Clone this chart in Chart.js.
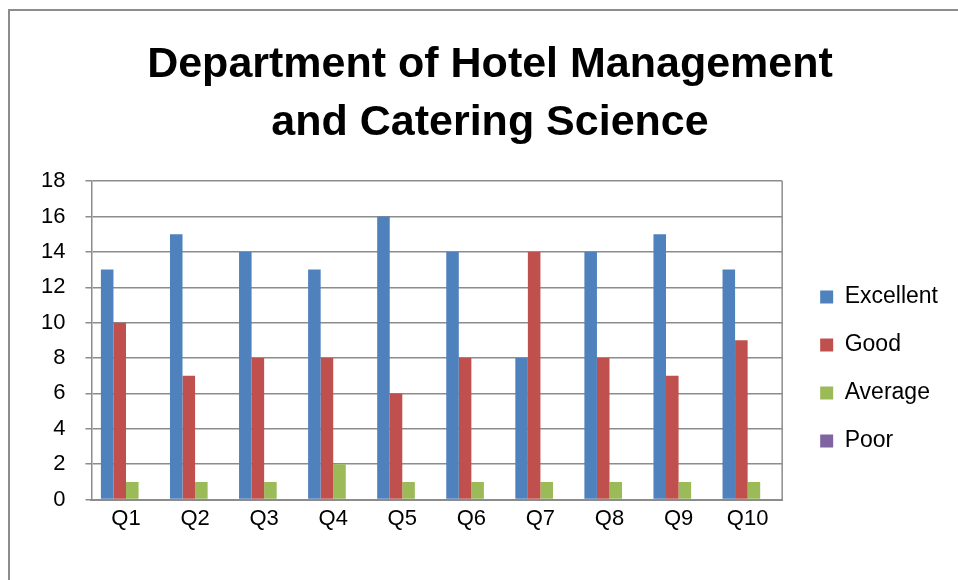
<!DOCTYPE html>
<html>
<head>
<meta charset="utf-8">
<script src="https://cdn.jsdelivr.net/npm/chart.js@4/dist/chart.umd.min.js"></script>
<style>
  html, body { margin: 0; padding: 0; background: #fff; overflow: hidden; }
  #frame { position: absolute; left: 8px; top: 9px; width: 1000px; height: 1000px; border: 2px solid #8c8c8c; }
  #wrap { position: absolute; left: 0; top: 0; width: 958px; height: 580px; }
</style>
</head>
<body>
<div id="frame"></div>
<div id="wrap"><canvas id="surveyChart"></canvas></div>
<script>
// Feedback counts per question
const questions = ['Q1', 'Q2', 'Q3', 'Q4', 'Q5', 'Q6', 'Q7', 'Q8', 'Q9', 'Q10'];
const excellent = [13, 15, 14, 13, 16, 14, 8, 14, 15, 13];
const good = [10, 7, 8, 8, 6, 8, 14, 8, 7, 9];
const average = [1, 1, 1, 2, 1, 1, 1, 1, 1, 1];
const poor = [0, 0, 0, 0, 0, 0, 0, 0, 0, 0];
const titleLines = ['Department of Hotel Management', 'and Catering Science'];

const fontFamily = "'Liberation Sans', Arial, sans-serif";

function makeSet(label, data, color) {
  return {
    label: label,
    data: data,
    backgroundColor: color,
    borderWidth: 0,
    barPercentage: 1,
    categoryPercentage: 0.727
  };
}

new Chart(document.getElementById('surveyChart'), {
  type: 'bar',
  data: {
    labels: questions,
    datasets: [
      makeSet('Excellent', excellent, '#4f81bd'),
      makeSet('Good', good, '#c0504d'),
      makeSet('Average', average, '#9bbb59'),
      makeSet('Poor', poor, '#8064a2')
    ]
  },
  options: {
    responsive: true,
    maintainAspectRatio: false,
    animation: false,
    layout: {
      padding: { left: 21, right: 23, top: 0, bottom: 50 }
    },
    plugins: {
      title: {
        display: true,
        text: titleLines,
        color: '#000',
        font: { size: 43, weight: 'bold', family: fontFamily, lineHeight: 1.35 },
        padding: { top: 36, bottom: 29 }
      },
      legend: {
        position: 'right',
        align: 'center',
        labels: {
          boxWidth: 13,
          boxHeight: 13,
          padding: 25,
          color: '#000',
          font: { size: 23, family: fontFamily }
        }
      },
      tooltip: { enabled: false }
    },
    scales: {
      y: {
        min: 0,
        max: 18,
        ticks: {
          stepSize: 2,
          color: '#000',
          padding: 20,
          font: { size: 22, family: fontFamily }
        },
        grid: {
          color: '#8c8c8c',
          lineWidth: 1.5,
          tickLength: 6
        },
        border: { color: '#8c8c8c', width: 1.5 }
      },
      x: {
        ticks: {
          color: '#000',
          padding: -2,
          font: { size: 22, family: fontFamily }
        },
        grid: { display: false },
        border: { color: '#8c8c8c', width: 2 }
      }
    }
  },
  plugins: [{
    // nudge legend and title to where the original has them, draw the plot's right edge
    id: 'plotEdge',
    afterLayout: function(chart) {
      const lg = chart.legend;
      lg.left += 13;
      lg.right += 13;
      lg.top += 104;
      lg.bottom += 104;
      const tb = chart.titleBlock;
      tb.left += 12;
      tb.right += 12;
    },
    afterDraw: function(chart) {
      const a = chart.chartArea;
      const ctx = chart.ctx;
      ctx.save();
      ctx.strokeStyle = '#8c8c8c';
      ctx.lineWidth = 1.5;
      ctx.beginPath();
      ctx.moveTo(a.right, a.top);
      ctx.lineTo(a.right, a.bottom);
      ctx.stroke();
      ctx.restore();
    }
  }]
});
</script>
</body>
</html>
